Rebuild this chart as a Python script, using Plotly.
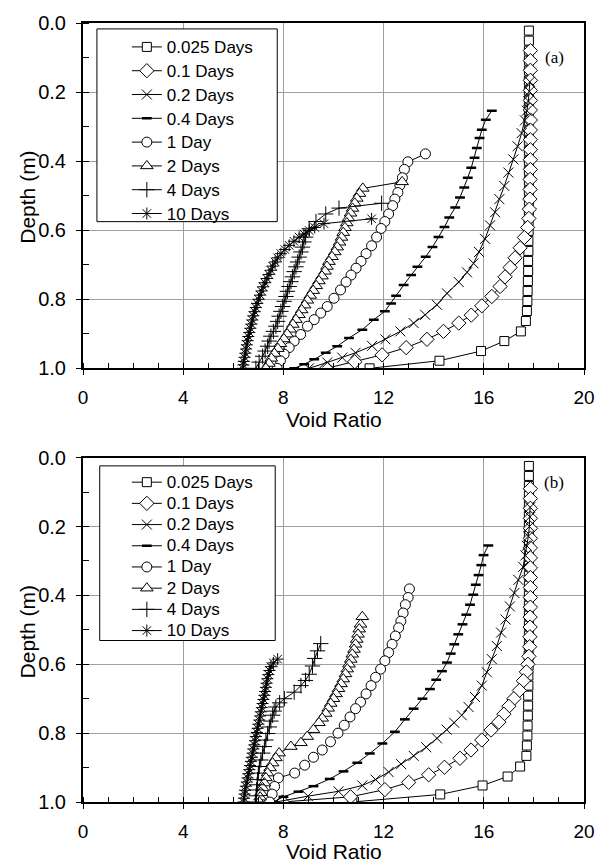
import plotly.graph_objects as go

# ---------------- DATA ----------------
series_names = ["0.025 Days", "0.1 Days", "0.2 Days", "0.4 Days", "1 Day", "2 Days", "4 Days", "10 Days"]
x_ticks = [0, 4, 8, 12, 16, 20]
y_ticks = [0.0, 0.2, 0.4, 0.6, 0.8, 1.0]

# ---- panel (a) ----
a_025_d = [0.022,0.051,0.080,0.109,0.138,0.167,0.196,0.225,0.254,0.283,0.312,0.341,0.370,0.399,0.428,0.457,0.486,0.515,0.544,0.573,0.602,0.631,0.660,0.689,0.718,0.747,0.776,0.805,0.834,0.863,0.893,0.921,0.950,0.978,1.000]
a_025_e = [17.80,17.80,17.80,17.80,17.80,17.80,17.80,17.80,17.80,17.80,17.80,17.80,17.80,17.80,17.80,17.80,17.80,17.80,17.80,17.79,17.79,17.78,17.78,17.77,17.77,17.76,17.75,17.74,17.72,17.68,17.48,16.82,15.89,14.23,11.44]

a_01_d = [0.080,0.109,0.137,0.166,0.195,0.224,0.252,0.281,0.310,0.338,0.367,0.396,0.424,0.453,0.482,0.510,0.539,0.566,0.592,0.621,0.651,0.680,0.708,0.735,0.763,0.792,0.819,0.846,0.869,0.893,0.916,0.940,0.961,0.981,1.000]
a_01_e = [17.86,17.86,17.86,17.86,17.86,17.86,17.86,17.86,17.86,17.86,17.86,17.86,17.86,17.85,17.85,17.84,17.82,17.80,17.75,17.62,17.45,17.25,17.05,16.85,16.65,16.32,15.92,15.50,15.00,14.39,13.73,12.90,11.94,10.85,9.72]

a_02_d = [0.170,0.198,0.226,0.254,0.282,0.319,0.357,0.395,0.433,0.472,0.510,0.548,0.586,0.625,0.663,0.696,0.722,0.750,0.783,0.816,0.845,0.869,0.893,0.916,0.935,0.955,0.969,0.983,1.000]
a_02_e = [17.84,17.82,17.78,17.72,17.64,17.51,17.35,17.18,16.98,16.82,16.62,16.45,16.25,16.05,15.81,15.59,15.33,15.00,14.53,14.13,13.66,13.20,12.67,12.07,11.54,10.88,10.35,9.75,9.02]

a_04_d = [0.254,0.280,0.309,0.333,0.362,0.390,0.419,0.448,0.476,0.505,0.534,0.563,0.591,0.620,0.649,0.677,0.706,0.730,0.759,0.790,0.812,0.835,0.859,0.888,0.912,0.936,0.955,0.974,0.988,1.000]
a_04_e = [16.32,16.08,15.92,15.83,15.72,15.63,15.50,15.36,15.22,15.05,14.86,14.62,14.43,14.19,13.95,13.68,13.35,13.10,12.80,12.50,12.30,12.05,11.61,11.15,10.62,10.15,9.69,9.23,8.83,8.43]

a_1_d = [0.379,0.402,0.424,0.448,0.470,0.491,0.510,0.529,0.553,0.575,0.595,0.620,0.645,0.668,0.690,0.710,0.730,0.750,0.773,0.797,0.821,0.840,0.859,0.878,0.902,0.921,0.940,0.959,0.978,1.000]
a_1_e = [13.67,12.97,12.83,12.75,12.65,12.57,12.45,12.36,12.20,12.05,11.90,11.72,11.52,11.30,11.10,10.90,10.70,10.50,10.28,10.02,9.75,9.49,9.23,8.96,8.69,8.43,8.23,8.03,7.88,7.75]

a_2_d = [0.460,0.479,0.494,0.508,0.522,0.537,0.551,0.565,0.579,0.593,0.607,0.621,0.635,0.649,0.663,0.677,0.691,0.705,0.719,0.733,0.747,0.761,0.775,0.789,0.803,0.817,0.831,0.845,0.859,0.873,0.887,0.901,0.915,0.929,0.943,0.957,0.971,0.986,1.000]
a_2_e = [12.74,11.17,11.04,10.93,10.85,10.76,10.68,10.60,10.53,10.46,10.39,10.32,10.24,10.15,10.05,9.94,9.82,9.74,9.66,9.54,9.42,9.31,9.19,9.07,8.96,8.85,8.73,8.62,8.50,8.38,8.27,8.15,8.02,7.88,7.78,7.64,7.52,7.42,7.30]

a_4_d = [0.522,0.536,0.553,0.575,0.596,0.620,0.634,0.649,0.663,0.678,0.692,0.706,0.720,0.735,0.749,0.763,0.777,0.792,0.806,0.821,0.835,0.849,0.864,0.878,0.893,0.907,0.921,0.936,0.950,0.965,0.982,1.000]
a_4_e = [11.92,10.22,9.69,9.30,9.03,8.89,8.82,8.76,8.70,8.63,8.57,8.50,8.43,8.36,8.30,8.23,8.16,8.10,8.03,7.97,7.90,7.83,7.77,7.70,7.60,7.50,7.43,7.37,7.27,7.17,7.03,6.90]

a_10_d = [0.567,0.581,0.592,0.601,0.611,0.620,0.632,0.644,0.656,0.668,0.680,0.692,0.704,0.716,0.728,0.740,0.752,0.764,0.776,0.788,0.800,0.812,0.824,0.836,0.848,0.860,0.872,0.884,0.896,0.908,0.920,0.932,0.944,0.956,0.968,0.980,0.990,1.000]
a_10_e = [11.52,9.62,9.25,9.03,8.82,8.63,8.42,8.23,8.06,7.90,7.77,7.67,7.57,7.50,7.42,7.34,7.26,7.19,7.13,7.07,7.01,6.95,6.90,6.85,6.80,6.76,6.72,6.68,6.64,6.60,6.57,6.54,6.51,6.48,6.45,6.42,6.40,6.38]

# ---- panel (b) ----
b_025_d = [0.024,0.053,0.082,0.111,0.140,0.169,0.198,0.227,0.256,0.285,0.314,0.343,0.372,0.401,0.430,0.459,0.488,0.517,0.546,0.575,0.604,0.633,0.662,0.691,0.720,0.749,0.778,0.807,0.836,0.866,0.897,0.926,0.952,0.978,1.000]
b_025_e = [17.80,17.80,17.80,17.80,17.80,17.80,17.80,17.80,17.80,17.80,17.80,17.80,17.80,17.80,17.80,17.80,17.80,17.80,17.80,17.79,17.79,17.78,17.78,17.77,17.77,17.76,17.75,17.74,17.72,17.70,17.45,16.95,15.95,14.26,10.75]

b_01_d = [0.090,0.119,0.147,0.176,0.205,0.234,0.262,0.291,0.320,0.348,0.377,0.406,0.434,0.463,0.492,0.520,0.549,0.577,0.600,0.622,0.648,0.676,0.700,0.722,0.745,0.768,0.791,0.820,0.849,0.873,0.899,0.921,0.943,0.964,0.985,1.000]
b_01_e = [17.86,17.86,17.86,17.86,17.86,17.86,17.86,17.86,17.86,17.86,17.86,17.86,17.86,17.85,17.85,17.84,17.83,17.80,17.76,17.70,17.58,17.42,17.20,17.00,16.80,16.60,16.29,15.92,15.49,15.05,14.43,13.80,13.00,12.05,10.68,7.96]

b_02_d = [0.144,0.172,0.200,0.228,0.256,0.284,0.317,0.355,0.393,0.432,0.470,0.508,0.547,0.585,0.623,0.662,0.695,0.724,0.748,0.770,0.790,0.815,0.841,0.866,0.890,0.913,0.935,0.952,0.969,0.983,1.000]
b_02_e = [17.85,17.84,17.82,17.78,17.72,17.66,17.57,17.38,17.22,17.04,16.87,16.69,16.52,16.32,16.12,15.92,15.65,15.39,15.12,14.82,14.52,14.13,13.70,13.20,12.70,12.20,11.68,11.15,10.20,8.98,7.70]

b_04_d = [0.255,0.283,0.312,0.341,0.369,0.398,0.427,0.456,0.484,0.513,0.542,0.569,0.595,0.620,0.645,0.672,0.700,0.729,0.760,0.796,0.830,0.859,0.886,0.911,0.933,0.954,0.970,0.985,1.000]
b_04_e = [16.18,15.99,15.90,15.79,15.68,15.58,15.45,15.30,15.15,14.98,14.82,14.68,14.53,14.33,14.10,13.85,13.55,13.20,12.85,12.45,11.95,11.45,10.95,10.40,9.85,9.20,8.60,8.00,7.60]

b_1_d = [0.381,0.406,0.427,0.451,0.475,0.494,0.518,0.542,0.566,0.590,0.614,0.638,0.662,0.686,0.710,0.729,0.753,0.777,0.800,0.825,0.849,0.870,0.893,0.916,0.930,0.955,0.977,1.000]
b_1_e = [13.03,12.98,12.87,12.78,12.69,12.60,12.47,12.34,12.20,12.05,11.88,11.68,11.50,11.30,11.08,10.88,10.66,10.43,10.18,9.88,9.55,9.20,8.85,8.45,7.80,7.65,7.55,7.45]

b_2_d = [0.462,0.484,0.498,0.513,0.528,0.542,0.557,0.571,0.586,0.600,0.614,0.628,0.643,0.657,0.671,0.686,0.700,0.714,0.728,0.743,0.757,0.770,0.790,0.810,0.828,0.839,0.858,0.872,0.887,0.901,0.916,0.930,0.945,0.959,0.973,0.986,1.000]
b_2_e = [11.15,11.08,11.03,10.98,10.93,10.88,10.82,10.75,10.69,10.62,10.55,10.48,10.39,10.30,10.20,10.10,10.00,9.89,9.79,9.69,9.55,9.42,9.20,8.95,8.70,8.30,7.83,7.70,7.57,7.47,7.37,7.30,7.24,7.17,7.10,7.07,7.04]

b_4_d = [0.540,0.561,0.583,0.605,0.629,0.647,0.662,0.681,0.700,0.712,0.724,0.736,0.748,0.765,0.782,0.801,0.820,0.839,0.858,0.878,0.897,0.916,0.935,0.950,0.965,0.982,1.000]
b_4_e = [9.49,9.36,9.25,9.16,9.03,8.88,8.70,8.43,8.04,7.85,7.70,7.63,7.57,7.50,7.44,7.37,7.30,7.24,7.17,7.10,7.04,7.00,6.97,6.95,6.93,6.91,6.90]

b_10_d = [0.585,0.596,0.607,0.618,0.630,0.642,0.655,0.667,0.679,0.690,0.702,0.714,0.726,0.738,0.750,0.762,0.774,0.786,0.798,0.810,0.822,0.834,0.846,0.858,0.870,0.882,0.894,0.906,0.918,0.930,0.942,0.954,0.966,0.977,0.989,1.000]
b_10_e = [7.77,7.60,7.50,7.44,7.40,7.36,7.33,7.30,7.27,7.24,7.20,7.17,7.14,7.10,7.07,7.04,7.00,6.97,6.94,6.90,6.87,6.84,6.80,6.77,6.74,6.70,6.67,6.64,6.60,6.57,6.54,6.50,6.47,6.45,6.43,6.41]

panel_a = [(a_025_e, a_025_d), (a_01_e, a_01_d), (a_02_e, a_02_d), (a_04_e, a_04_d),
           (a_1_e, a_1_d), (a_2_e, a_2_d), (a_4_e, a_4_d), (a_10_e, a_10_d)]
panel_b = [(b_025_e, b_025_d), (b_01_e, b_01_d), (b_02_e, b_02_d), (b_04_e, b_04_d),
           (b_1_e, b_1_d), (b_2_e, b_2_d), (b_4_e, b_4_d), (b_10_e, b_10_d)]

# ---------------- STYLE ----------------
FONT = "Arial, Liberation Sans, sans-serif"
SERIF = "Times New Roman, Liberation Serif, serif"
marker_styles = [
    dict(symbol="square", size=9, color="white", line=dict(color="black", width=1)),
    dict(symbol="diamond", size=11, color="white", line=dict(color="black", width=1)),
    dict(symbol="x-thin", size=10, color="black", line=dict(color="black", width=1)),
    dict(symbol="line-ew", size=7, color="black", line=dict(color="black", width=2.5)),
    dict(symbol="circle", size=10, color="white", line=dict(color="black", width=1)),
    dict(symbol="triangle-up", size=11, color="white", line=dict(color="black", width=1)),
    dict(symbol="cross-thin", size=11, color="black", line=dict(color="black", width=1)),
    dict(symbol="asterisk", size=10, color="black", line=dict(color="black", width=1)),
]

fig = go.Figure()
for panel, xa, ya, leg in [(panel_a, "x", "y", "legend"), (panel_b, "x2", "y2", "legend2")]:
    for i, (e, d) in enumerate(panel):
        fig.add_trace(go.Scatter(
            x=e, y=d, mode="lines+markers",
            name=f"<span style='font-size:17px'>{series_names[i]}</span>",
            xaxis=xa, yaxis=ya, legend=leg, legendgroup=f"{leg}{i}",
            line=dict(color="black", width=1),
            marker=marker_styles[i],
        ))

def xax(anchor):
    return dict(
        range=[0, 20], tickvals=x_ticks, ticktext=[str(v) for v in x_ticks],
        showgrid=True, gridcolor="#a0a0a0", gridwidth=1, zeroline=False,
        showline=True, linecolor="black", linewidth=2, mirror=True,
        ticks="outside", ticklen=5, tickcolor="black", tickwidth=1,
        minor=dict(dtick=1, tick0=0, ticks="inside", ticklen=5, tickcolor="black", showgrid=False),
        tickfont=dict(family=FONT, size=19, color="black"),
        ticklabelstandoff=6, anchor=anchor,
    )

def yax(dom, anchor):
    return dict(
        range=[1, 0], tickvals=y_ticks, ticktext=[f"{v:.1f}" for v in y_ticks], domain=dom,
        showgrid=True, gridcolor="#a0a0a0", gridwidth=1, zeroline=False,
        showline=True, linecolor="black", linewidth=2, mirror=True,
        ticks="outside", ticklen=5, tickcolor="black", tickwidth=1,
        minor=dict(dtick=0.1, tick0=0, ticks="inside", ticklen=6, tickcolor="black", showgrid=False),
        tickfont=dict(family=FONT, size=20, color="black"),
        ticklabelstandoff=6, anchor=anchor,
    )

leg_common = dict(
    xref="paper", yref="paper", xanchor="left", yanchor="top",
    bgcolor="rgba(0,0,0,0)", borderwidth=0, tracegroupgap=0,
    itemclick=False, itemdoubleclick=False,
)

fig.update_layout(
    width=607, height=867,
    margin=dict(l=83, r=21, t=17, b=65),
    paper_bgcolor="white", plot_bgcolor="white",
    showlegend=True,
    xaxis=xax("y"), yaxis=yax([0.5567, 1.0], "x"),
    xaxis2=xax("y2"), yaxis2=yax([0.0, 0.442], "x2"),
    legend=dict(x=0.0875, y=0.991, font=dict(family=FONT, size=16, color="black"), **leg_common),
    legend2=dict(x=0.0875, y=0.4306, font=dict(family=FONT, size=14, color="black"), **leg_common),
    shapes=[
        dict(type="rect", xref="paper", yref="paper", x0=0.0278, x1=0.3877, y0=0.745, y1=0.9924,
             line=dict(color="black", width=1), fillcolor="white", layer="above"),
        dict(type="rect", xref="paper", yref="paper", x0=0.0334, x1=0.3837, y0=0.2073, y1=0.4315,
             line=dict(color="black", width=1), fillcolor="white", layer="above"),
    ],
    annotations=[
        dict(text="(a)", xref="paper", yref="paper", x=0.964, y=0.971, showarrow=False,
             font=dict(family=SERIF, size=17, color="black")),
        dict(text="(b)", xref="paper", yref="paper", x=0.964, y=0.410, showarrow=False,
             font=dict(family=SERIF, size=17, color="black")),
        dict(text="Depth (m)", xref="paper", yref="paper", x=-0.1113, y=0.776, textangle=-90,
             showarrow=False, xanchor="center", yanchor="middle",
             font=dict(family=FONT, size=21, color="black")),
        dict(text="Depth (m)", xref="paper", yref="paper", x=-0.1113, y=0.218, textangle=-90,
             showarrow=False, xanchor="center", yanchor="middle",
             font=dict(family=FONT, size=21, color="black")),
        dict(text="Void Ratio", xref="paper", yref="paper", x=0.5, y=0.4904,
             showarrow=False, xanchor="center", yanchor="middle",
             font=dict(family=FONT, size=21, color="black")),
        dict(text="Void Ratio", xref="paper", yref="paper", x=0.5, y=-0.0637,
             showarrow=False, xanchor="center", yanchor="middle",
             font=dict(family=FONT, size=21, color="black")),
    ],
)

fig.write_html(
    "out.html",
    config={"displayModeBar": False},
    post_script="document.body.style.margin='0px';document.body.style.padding='0px';"
                "document.documentElement.style.overflow='hidden';",
)
